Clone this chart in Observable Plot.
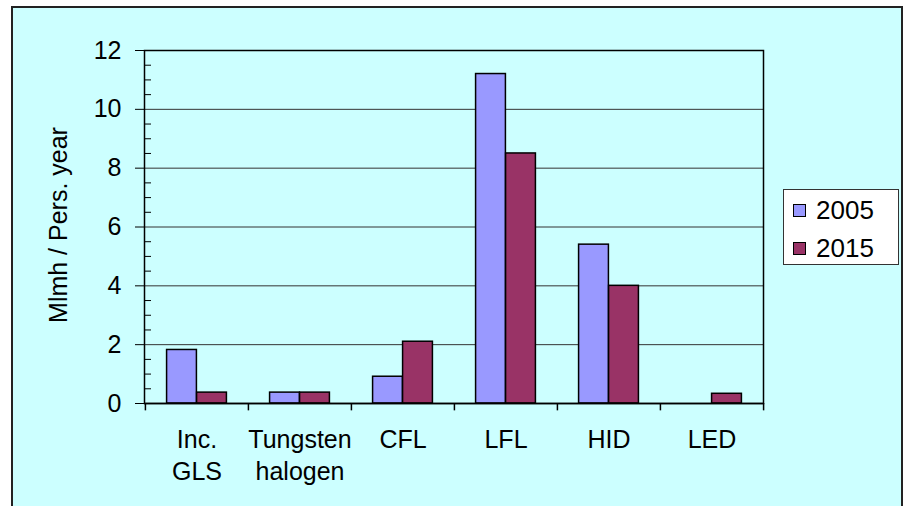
<!DOCTYPE html>
<html>
<head>
<meta charset="utf-8">
<script src="https://cdn.jsdelivr.net/npm/d3@7"></script>
<script src="https://cdn.jsdelivr.net/npm/@observablehq/plot@0.6"></script>
<style>
  html, body { margin: 0; padding: 0; background: #ffffff; }
  #wrap { position: relative; width: 907px; height: 506px; overflow: hidden; font-family: "Liberation Sans", Arial, sans-serif; }
  #bg { position: absolute; left: 11px; top: 6px; width: 892px; height: 520px; background: #CCFFFF; border: 2px solid #222; box-sizing: border-box; }
  #chart { position: absolute; left: 0; top: 0; }
  #legend { position: absolute; left: 783px; top: 189px; width: 116px; height: 76px; background: #ffffff; border: 1px solid #333; box-sizing: border-box; font-size: 26px; line-height: 1; color: #000; }
  #legend .item { position: absolute; left: 9px; display: flex; align-items: center; }
  #legend .sw { width: 13px; height: 13px; border: 1px solid #000; box-sizing: border-box; margin-right: 10px; }
</style>
</head>
<body>
<div id="wrap">
  <div id="bg"></div>
  <div id="chart"></div>
  <div id="legend"></div>
</div>
<script>
const categories = ["Inc.\nGLS", "Tungsten\nhalogen", "CFL", "LFL", "HID", "LED"];
const series = ["2005", "2015"];
const values2005 = [1.82, 0.37, 0.91, 11.2, 5.4, 0];
const values2015 = [0.37, 0.37, 2.1, 8.5, 4.0, 0.33];
const colors = ["#9999FF", "#993366"];
const yTicks = [0, 2, 4, 6, 8, 10, 12];
const yLabel = "Mlmh / Pers. year";

const W = 907, H = 506;
const mL = 144, mR = 144, mT = 50, mB = 103;
const bw = (W - mL - mR) / categories.length;
const barW = 30;
const gap = (bw - 2 * barW) / 2;

const rows = [];
categories.forEach((c, i) => {
  rows.push({cat: c, year: "2005", v: values2005[i]});
  rows.push({cat: c, year: "2015", v: values2015[i]});
});
const minor = d3.range(0.5, 12, 0.5).filter(v => v % 2 !== 0);

const chart = Plot.plot({
  width: W,
  height: H,
  marginLeft: mL,
  marginRight: mR,
  marginTop: mT,
  marginBottom: mB,
  style: {background: "transparent", fontFamily: "'Liberation Sans', Arial, sans-serif", fontSize: "25px", color: "#000"},
  x: {domain: categories, padding: 0},
  y: {domain: [0, 12]},
  marks: [
    Plot.ruleY([2, 4, 6, 8, 10], {stroke: "#333", strokeWidth: 1}),
    Plot.tickY(minor, {y: d => d, insetRight: (W - mL - mR) - 7, stroke: "#000"}),
    Plot.barY(rows.filter(d => d.year === "2005"), {x: "cat", y: "v", fill: colors[0], stroke: "#000", strokeWidth: 1.5, insetLeft: gap, insetRight: gap + barW}),
    Plot.barY(rows.filter(d => d.year === "2015"), {x: "cat", y: "v", fill: colors[1], stroke: "#000", strokeWidth: 1.5, insetLeft: gap + barW, insetRight: gap}),
    Plot.ruleY([0], {stroke: "#000", strokeWidth: 1.5}),
    Plot.frame({stroke: "#000", strokeWidth: 1.5}),
    Plot.axisY({ticks: yTicks, tickSize: 9, tickPadding: 14, label: null, tickFormat: d => String(d), stroke: "#000"}),
    Plot.axisX({tickSize: 0, tickPadding: 21, label: null, lineAnchor: "top", lineHeight: 1.3}),
    Plot.ruleX(categories, {x: d => d, y1: 0, y2: -0.25, dx: -bw / 2, stroke: "#000", strokeWidth: 1.5}),
    Plot.ruleX([categories[categories.length - 1]], {x: d => d, y1: 0, y2: -0.25, dx: bw / 2, stroke: "#000", strokeWidth: 1.5}),
    Plot.text([yLabel], {frameAnchor: "left", textAnchor: "middle", rotate: -90, dx: -86, dy: -2, fontSize: 25})
  ]
});
document.getElementById("chart").appendChild(chart);

const legend = document.getElementById("legend");
series.forEach((s, i) => {
  const item = document.createElement("div");
  item.className = "item";
  item.style.top = (7 + i * 38) + "px";
  const sw = document.createElement("div");
  sw.className = "sw";
  sw.style.background = colors[i];
  const t = document.createElement("span");
  t.textContent = s;
  item.appendChild(sw);
  item.appendChild(t);
  legend.appendChild(item);
});
</script>
</body>
</html>
